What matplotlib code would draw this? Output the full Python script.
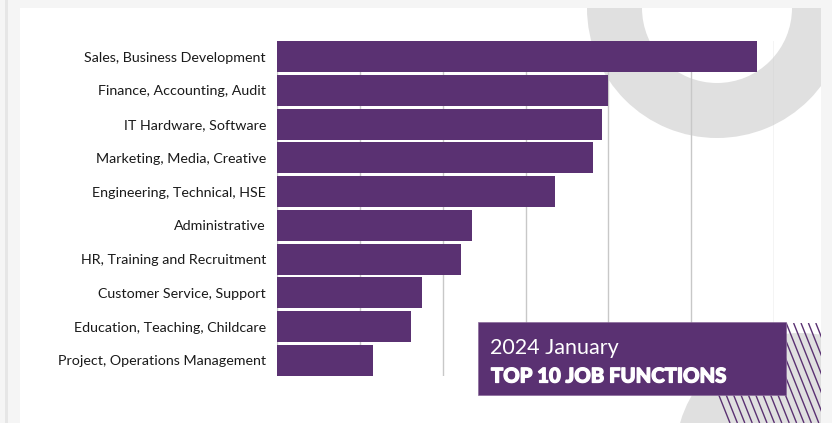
import matplotlib
matplotlib.use("Agg")
import matplotlib.pyplot as plt
import matplotlib.patheffects as pe
from matplotlib.patches import Rectangle, Circle, Wedge
import numpy as np

categories = [
    "Sales, Business Development",
    "Finance, Accounting, Audit",
    "IT Hardware, Software",
    "Marketing, Media, Creative",
    "Engineering, Technical, HSE",
    "Administrative",
    "HR, Training and Recruitment",
    "Customer Service, Support",
    "Education, Teaching, Childcare",
    "Project, Operations Management",
]
values = [2897, 1999, 1959, 1909, 1678, 1179, 1109, 878, 810, 579]
grid_ticks = [0, 500, 1000, 1500, 2000, 2500, 3000]
subtitle = "2024 January"
title = "TOP 10 JOB FUNCTIONS"

PURPLE = "#5a3172"
RING = "#e0e0e0"
W, H = 832, 423

plt.rcParams['font.family'] = ['Lato', 'DejaVu Sans']

fig = plt.figure(figsize=(W / 100, H / 100), dpi=100)
fig.patch.set_facecolor("#f5f5f5")

# background decoration layer (pixel coordinates)
bg = fig.add_axes([0, 0, 1, 1])
bg.set_xlim(0, W)
bg.set_ylim(H, 0)
bg.axis("off")
bg.add_patch(Rectangle((5, 0), 3, H, fc="#e6e6e6", ec="none"))
panel = Rectangle((20, 8), 801, H - 8, fc="white", ec="none")
bg.add_patch(panel)
ring = Wedge((717, 8), 130, 0, 360, width=55, fc=RING, ec="none")
bg.add_patch(ring)
ring.set_clip_path(panel)
circ = Circle((800, 458), 125, fc=RING, ec="none")
bg.add_patch(circ)
circ.set_clip_path(panel)
clip_box = Rectangle((700, 323), 121, 100, fc="none", ec="none")
bg.add_patch(clip_box)
for x0 in np.arange(690, 860, 7.4):
    ln, = bg.plot([x0, x0 + 40], [323, 423], color=PURPLE, lw=1.0,
                  solid_capstyle="butt")
    ln.set_clip_path(clip_box)

# chart
ax = fig.add_axes([276.7 / W, 47 / H, 497.6 / W, 335 / H])
ax.set_facecolor("none")
y = np.arange(len(categories))
ax.barh(y, values, height=0.92, color=PURPLE, edgecolor="none", zorder=3)
ax.set_xlim(grid_ticks[0], grid_ticks[-1])
ax.set_ylim(len(categories) - 1 + 0.46, -0.46)
ax.set_xticks(grid_ticks)
ax.set_xticklabels([])
ax.tick_params(axis="x", length=0)
ax.xaxis.grid(True, color="#c8c8c8", lw=1.0, zorder=0)
ax.set_axisbelow(True)
ax.set_yticks(y)
ax.set_yticklabels(categories, fontsize=10.3, color="#1a1a1a")
ax.tick_params(axis="y", length=0, pad=7.7)
for s in ax.spines.values():
    s.set_visible(False)

# overlay title box
ov = fig.add_axes([0, 0, 1, 1])
ov.set_xlim(0, W)
ov.set_ylim(H, 0)
ov.axis("off")
ov.patch.set_alpha(0)
ov.add_patch(Rectangle((478, 322), 308, 73, fc=PURPLE, ec="#8a6a9a", lw=0.5))
ov.text(490, 354, subtitle, color="white", fontsize=15.5, fontweight="normal",
        va="baseline", ha="left")
ov.text(491, 382.5, title, color="white", fontsize=14.6, fontweight=900,
        va="baseline", ha="left",
        path_effects=[pe.withStroke(linewidth=0.9, foreground="white")])

fig.savefig("out.png", dpi=100, facecolor=fig.get_facecolor())
